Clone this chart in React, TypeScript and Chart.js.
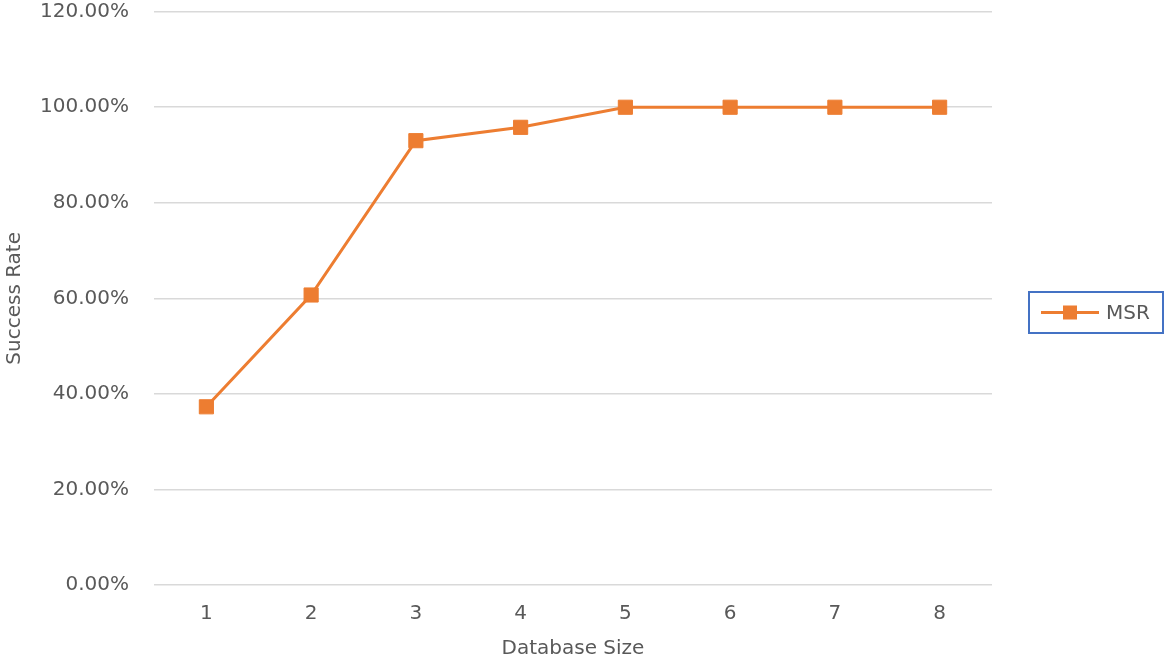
import React, { useEffect, useRef } from "react";
import { Chart, registerables } from "chart.js";

Chart.register(...registerables);

const categories: string[] = ["1", "2", "3", "4", "5", "6", "7", "8"];
const msrValues: number[] = [37.3, 60.7, 93.0, 95.8, 100, 100, 100, 100];
const seriesLabel = "MSR";
const yAxisTitle = "Success Rate";
const xAxisTitle = "Database Size";
const yMin = 0;
const yMax = 120;
const yStep = 20;

const ORANGE = "#ED7D31";
const TEXT = "#595959";
const GRID = "#D9D9D9";
const FONT = "'DejaVu Sans', sans-serif";

const legendPlugin = {
  id: "boxedLegend",
  afterDraw(chart: any) {
    const ctx = chart.ctx;
    const ds = chart.data.datasets[0];
    const bx = chart.width - 139;
    const by = 292;
    const bw = 134;
    const bh = 41;
    const cy = by + bh / 2;
    ctx.save();
    ctx.strokeStyle = "#4472C4";
    ctx.lineWidth = 2;
    ctx.strokeRect(bx, by, bw, bh);
    ctx.strokeStyle = ds.borderColor;
    ctx.lineWidth = 3;
    ctx.beginPath();
    ctx.moveTo(bx + 12, cy);
    ctx.lineTo(bx + 70, cy);
    ctx.stroke();
    ctx.fillStyle = ds.pointBackgroundColor;
    ctx.fillRect(bx + 34, cy - 7, 14, 14);
    ctx.fillStyle = TEXT;
    ctx.font = `20px ${FONT}`;
    ctx.textBaseline = "middle";
    ctx.textAlign = "left";
    ctx.fillText(ds.label, bx + 77, cy + 1);
    ctx.restore();
  },
};

export default function App() {
  const canvasRef = useRef<HTMLCanvasElement | null>(null);

  useEffect(() => {
    if (!canvasRef.current) return;
    const chart = new Chart(canvasRef.current, {
      type: "line",
      data: {
        labels: categories,
        datasets: [
          {
            label: seriesLabel,
            data: msrValues,
            borderColor: ORANGE,
            backgroundColor: ORANGE,
            pointBackgroundColor: ORANGE,
            pointBorderColor: ORANGE,
            borderWidth: 3,
            pointStyle: "rect",
            pointRadius: 10,
            pointBorderWidth: 1,
            tension: 0,
          },
        ],
      },
      options: {
        animation: false,
        responsive: true,
        maintainAspectRatio: false,
        layout: { padding: { top: 11.7, right: 176, left: 0, bottom: 0 } },
        plugins: {
          legend: { display: false },
          tooltip: { enabled: false },
        },
        scales: {
          x: {
            offset: true,
            grid: { display: false, drawTicks: false },
            border: { display: false },
            ticks: {
              color: TEXT,
              font: { family: FONT, size: 20 },
              padding: 17,
            },
            title: {
              display: true,
              text: xAxisTitle,
              color: TEXT,
              font: { family: FONT, size: 20 },
              padding: { top: 0, bottom: 0 },
            },
            afterFit: (scale: any) => {
              scale.height = 76;
              scale.paddingLeft = 0;
              scale.paddingRight = 0;
            },
          },
          y: {
            min: yMin,
            max: yMax,
            grid: { color: GRID, lineWidth: 1.5, drawTicks: false },
            border: { display: false },
            ticks: {
              stepSize: yStep,
              color: TEXT,
              font: { family: FONT, size: 20, lineHeight: 1.0 },
              padding: 25,
              callback: (v: any) => Number(v).toFixed(2) + "%",
            },
            title: {
              display: true,
              text: yAxisTitle,
              color: TEXT,
              font: { family: FONT, size: 20 },
              padding: { top: 3, bottom: 0 },
            },
            afterFit: (scale: any) => {
              scale.width = 154;
              scale.paddingTop = 0;
              scale.paddingBottom = 0;
            },
          },
        },
      },
      plugins: [legendPlugin],
    });
    return () => chart.destroy();
  }, []);

  return (
    <div
      style={{
        position: "fixed",
        left: 0,
        top: 0,
        width: 1168,
        height: 661,
        background: "#fff",
      }}
    >
      <canvas ref={canvasRef} />
    </div>
  );
}
